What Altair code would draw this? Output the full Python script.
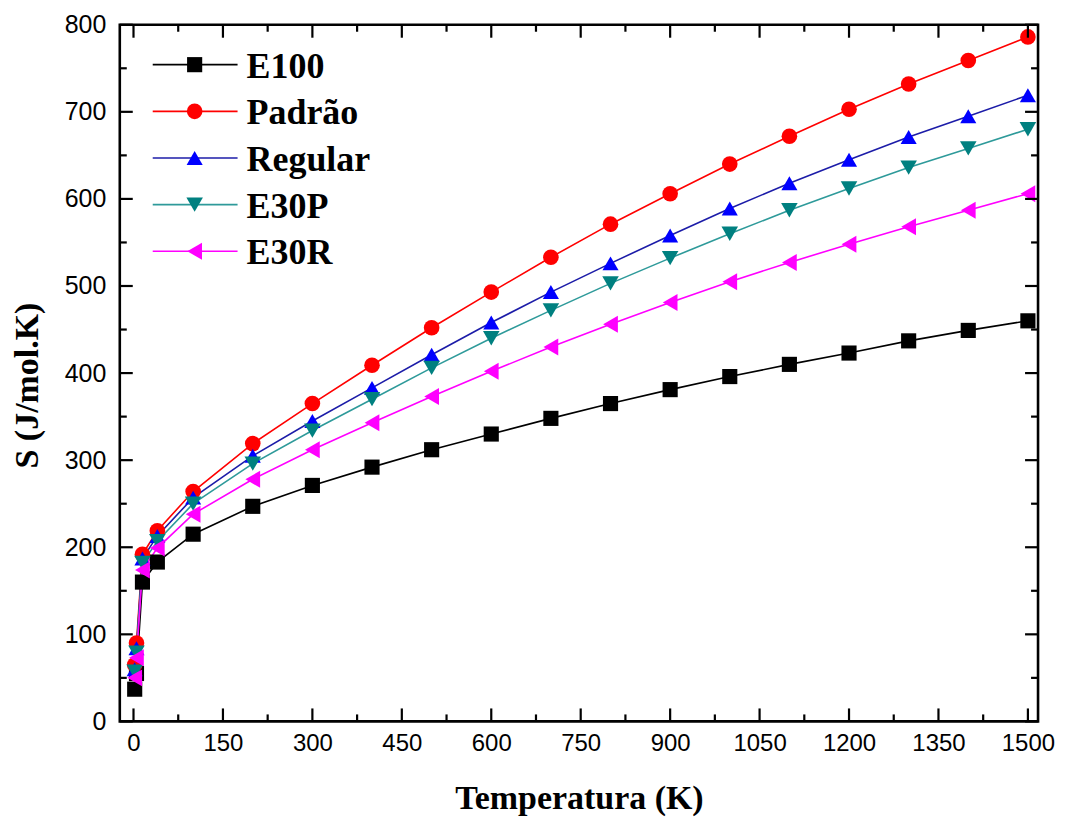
import altair as alt
import pandas as pd

temps = [2, 5, 15, 40, 100, 200, 300, 400, 500, 600, 700, 800, 900, 1000, 1100, 1200, 1300, 1400, 1500]
series = ["E100", "Padrão", "Regular", "E30P", "E30R"]
e100 = [37, 55, 160, 183, 215, 247, 271, 292, 312, 330, 348, 365, 381, 396, 410, 423, 437, 449, 460]
padrao = [65, 90, 192, 219, 264, 319, 365, 409, 452, 493, 533, 571, 606, 640, 672, 703, 732, 759, 786]
regular = [60, 84, 187, 213, 257, 305, 345, 383, 421, 458, 493, 526, 558, 589, 618, 645, 671, 695, 719]
e30p = [57, 79, 182, 207, 250, 296, 334, 370, 406, 440, 472, 503, 532, 560, 587, 612, 636, 658, 680]
e30r = [50, 73, 174, 199, 238, 278, 312, 343, 373, 402, 430, 456, 481, 505, 527, 548, 568, 587, 606]

marker_colors = ["#000000", "#FF0000", "#0000FF", "#008080", "#FF00FF"]
line_colors = ["#000000", "#FF0000", "#1C1CA8", "#2E9A9A", "#FF00FF"]
shapes = ["square", "circle", "triangle-up", "triangle-down", "triangle-left"]
marker_sizes = [230, 290, 330, 330, 330]

x_major = [0, 150, 300, 450, 600, 750, 900, 1050, 1200, 1350, 1500]
x_minor = [75, 225, 375, 525, 675, 825, 975, 1125, 1275, 1425]
y_major = [0, 100, 200, 300, 400, 500, 600, 700, 800]
y_minor = [50, 150, 250, 350, 450, 550, 650, 750]

W, H = 920, 698
MAJ, MIN = 13, 7

rows = []
for name, vals in zip(series, [e100, padrao, regular, e30p, e30r]):
    for t, v in zip(temps, vals):
        rows.append({"series": name, "T": t, "S": v})
df = pd.DataFrame(rows)

xscale = alt.Scale(domain=[-23, 1517], nice=False, zero=False)
yscale = alt.Scale(domain=[0, 800], nice=False)

xaxis = alt.Axis(values=x_major, format="d", ticks=False, domain=False, grid=False,
                 labelFont="Liberation Sans Narrow, Arial Narrow, Liberation Sans", labelFontSize=24,
                 labelColor="black", labelPadding=10, title="Temperatura (K)",
                 titleFont="Liberation Serif", titleFontSize=34, titleFontWeight="bold",
                 titleColor="black", titlePadding=26, labelFlush=False)
yaxis = alt.Axis(values=y_major, format="d", ticks=False, domain=False, grid=False,
                 labelFont="Liberation Sans", labelFontSize=25, labelColor="black",
                 labelPadding=14, title="S (J/mol.K)", titleFont="Liberation Serif",
                 titleFontSize=34, titleFontWeight="bold", titleColor="black", titlePadding=20,
                 titleY=H / 2 + 12, labelFlush=False)

color_line = alt.Scale(domain=series, range=line_colors)
color_mark = alt.Scale(domain=series, range=marker_colors)
shape_sc = alt.Scale(domain=series, range=shapes)
size_sc = alt.Scale(domain=series, range=marker_sizes)

base = alt.Chart(df)
lines = base.mark_line(strokeWidth=1.6).encode(
    x=alt.X("T:Q", scale=xscale, axis=xaxis),
    y=alt.Y("S:Q", scale=yscale, axis=yaxis),
    stroke=alt.Stroke("series:N", scale=color_line, legend=None),
    detail="series:N",
)
points = base.mark_point(filled=True, opacity=1, strokeWidth=0).encode(
    x=alt.X("T:Q", scale=xscale),
    y=alt.Y("S:Q", scale=yscale),
    fill=alt.Fill("series:N", scale=color_mark, legend=None),
    shape=alt.Shape("series:N", scale=shape_sc, legend=None),
    size=alt.Size("series:N", scale=size_sc, legend=None),
)

ticks_x = pd.DataFrame({"T": x_major + x_minor, "len": [MAJ] * len(x_major) + [MIN] * len(x_minor)})
ticks_y = pd.DataFrame({"S": y_major + y_minor, "len": [MAJ] * len(y_major) + [MIN] * len(y_minor)})

tick_color = "black"
bx = alt.Chart(ticks_x).transform_calculate(y1=f"{H}", y2=f"{H} - datum.len").mark_rule(
    color=tick_color, strokeWidth=2.2).encode(
    x=alt.X("T:Q", scale=xscale, axis=None),
    y=alt.Y("y1:Q", scale=None, axis=None), y2=alt.Y2("y2:Q"))
tx = alt.Chart(ticks_x).transform_calculate(y1="0", y2="datum.len").mark_rule(
    color=tick_color, strokeWidth=2.2).encode(
    x=alt.X("T:Q", scale=xscale, axis=None),
    y=alt.Y("y1:Q", scale=None, axis=None), y2=alt.Y2("y2:Q"))
ly_ = alt.Chart(ticks_y).transform_calculate(x1="0", x2="datum.len").mark_rule(
    color=tick_color, strokeWidth=2.2).encode(
    y=alt.Y("S:Q", scale=yscale, axis=None),
    x=alt.X("x1:Q", scale=None, axis=None), x2=alt.X2("x2:Q"))
ry = alt.Chart(ticks_y).transform_calculate(x1=f"{W}", x2=f"{W} - datum.len").mark_rule(
    color=tick_color, strokeWidth=2.2).encode(
    y=alt.Y("S:Q", scale=yscale, axis=None),
    x=alt.X("x1:Q", scale=None, axis=None), x2=alt.X2("x2:Q"))

frame = alt.Chart(pd.DataFrame({"k": [0]})).mark_rect(fill="transparent", stroke="black", strokeWidth=2.6).encode(
    x=alt.value(0), x2=alt.value(W), y=alt.value(0), y2=alt.value(H))

# legend
leg = pd.DataFrame({"series": series})
lyy = alt.Y("series:N", sort=series, scale=alt.Scale(type="point", domain=series, range=[40, 227], padding=0), axis=None)
leg_line = alt.Chart(leg).mark_rule(strokeWidth=1.6).encode(
    y=lyy, x=alt.value(33), x2=alt.value(118),
    stroke=alt.Stroke("series:N", scale=color_line, legend=None))
leg_pt = alt.Chart(leg).mark_point(filled=True, opacity=1, strokeWidth=0).encode(
    y=lyy, x=alt.value(75),
    fill=alt.Fill("series:N", scale=color_mark, legend=None),
    shape=alt.Shape("series:N", scale=shape_sc, legend=None),
    size=alt.Size("series:N", scale=size_sc, legend=None))
leg_txt = alt.Chart(leg).mark_text(align="left", baseline="middle", font="Liberation Serif",
                                    fontSize=36, fontWeight="bold", color="black", dy=2).encode(
    y=lyy, x=alt.value(127), text="series:N")
legend = alt.layer(leg_line, leg_pt, leg_txt)

main = alt.layer(lines, points, frame)
ticks = alt.layer(bx, tx, ly_, ry)

chart = alt.layer(main, ticks, legend).resolve_scale(y="independent", x="independent").properties(
    width=W, height=H,
    autosize=alt.AutoSizeParams(type="none"),
    padding={"left": 112, "top": 16, "right": 20, "bottom": 100},
    background="white",
).configure_view(stroke=None)

chart.save("out.html", embed_options={"renderer": "svg", "actions": False})
